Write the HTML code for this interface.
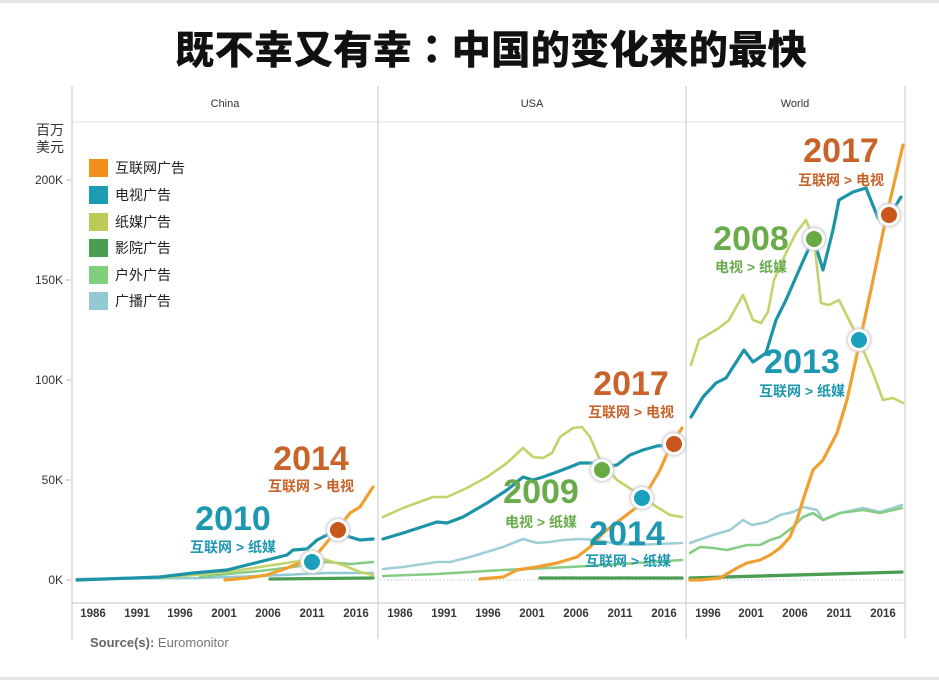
<!DOCTYPE html>
<html><head><meta charset="utf-8">
<style>
html,body{margin:0;padding:0;background:#fff;}
svg{display:block;}
text{font-family:"Liberation Sans","Noto Sans CJK SC",sans-serif;}
.cjk{font-family:"Liberation Sans","Noto Sans CJK SC",sans-serif;}
</style></head>
<body>
<svg width="939" height="680" viewBox="0 0 939 680" xmlns="http://www.w3.org/2000/svg">
<rect x="0" y="0" width="939" height="680" fill="#fff"/>
<rect x="0" y="0" width="939" height="3" fill="#e6e6e6"/>
<rect x="0" y="677" width="939" height="3" fill="#e6e6e6"/>

<!-- Title -->
<text x="491" y="64" text-anchor="middle" font-size="39.5" font-weight="900" fill="#111" class="cjk">既不幸又有幸<tspan style="font-family:'Noto Sans CJK TC',sans-serif">：</tspan>中国的变化来的最快</text>

<!-- frame -->
<g stroke="#d0d0d0" stroke-width="1.2" fill="none">
<line x1="72" y1="86" x2="72" y2="639"/>
<line x1="378" y1="86" x2="378" y2="639"/>
<line x1="686" y1="86" x2="686" y2="639"/>
<line x1="905" y1="86" x2="905" y2="639"/>
<line x1="72" y1="603" x2="905" y2="603"/>
</g>
<line x1="72" y1="122" x2="905" y2="122" stroke="#e2e2e2" stroke-width="1"/>

<!-- panel headers -->
<text x="225" y="107" text-anchor="middle" font-size="11" fill="#333">China</text>
<text x="532" y="107" text-anchor="middle" font-size="11" fill="#333">USA</text>
<text x="795" y="107" text-anchor="middle" font-size="11" fill="#333">World</text>

<!-- y axis -->
<text x="36" y="135" font-size="14" fill="#333" class="cjk">百万</text>
<text x="36" y="152" font-size="14" fill="#333" class="cjk">美元</text>
<g font-size="12" fill="#333" text-anchor="end">
<text x="63" y="184">200K</text>
<text x="63" y="284">150K</text>
<text x="63" y="384">100K</text>
<text x="63" y="484">50K</text>
<text x="63" y="584">0K</text>
</g>
<g stroke="#bbb" stroke-width="1">
<line x1="66" y1="180" x2="71" y2="180"/>
<line x1="66" y1="280" x2="71" y2="280"/>
<line x1="66" y1="380" x2="71" y2="380"/>
<line x1="66" y1="480" x2="71" y2="480"/>
<line x1="66" y1="580" x2="71" y2="580"/>
</g>

<!-- x axis labels -->
<g font-size="11.5" font-weight="bold" fill="#3a3a3a" text-anchor="middle">
<text x="93" y="617">1986</text><text x="137" y="617">1991</text><text x="180" y="617">1996</text><text x="224" y="617">2001</text><text x="268" y="617">2006</text><text x="312" y="617">2011</text><text x="356" y="617">2016</text>
<text x="400" y="617">1986</text><text x="444" y="617">1991</text><text x="488" y="617">1996</text><text x="532" y="617">2001</text><text x="576" y="617">2006</text><text x="620" y="617">2011</text><text x="664" y="617">2016</text>
<text x="708" y="617">1996</text><text x="751" y="617">2001</text><text x="795" y="617">2006</text><text x="839" y="617">2011</text><text x="883" y="617">2016</text>
</g>

<!-- source -->
<text x="90" y="647" font-size="13" fill="#666"><tspan font-weight="bold">Source(s):</tspan> <tspan fill="#777">Euromonitor</tspan></text>

<!-- legend -->
<g>
<rect x="89" y="159" width="19" height="18" fill="#f28e1c"/>
<rect x="89" y="186" width="19" height="18" fill="#1a9db3"/>
<rect x="89" y="213" width="19" height="18" fill="#bccb57"/>
<rect x="89" y="239" width="19" height="18" fill="#4b9d52"/>
<rect x="89" y="266" width="19" height="18" fill="#7fcf7c"/>
<rect x="89" y="292" width="19" height="18" fill="#92c9d3"/>
</g>
<g font-size="14" fill="#222" class="cjk">
<text x="115" y="173">互联网广告</text>
<text x="115" y="200">电视广告</text>
<text x="115" y="227">纸媒广告</text>
<text x="115" y="253">影院广告</text>
<text x="115" y="280">户外广告</text>
<text x="115" y="306">广播广告</text>
</g>

<!-- dotted zero lines -->
<g stroke="#c4c4c4" stroke-width="1" stroke-dasharray="1.5,2">
<line x1="380" y1="580" x2="684" y2="580"/>
<line x1="688" y1="580" x2="903" y2="580"/>
</g>

<g fill="none" stroke-linejoin="round" stroke-linecap="round">
<!-- CHINA -->
<polyline stroke="#92c9d3" stroke-width="2.6" points="77,579 200,578 260,576 327,573 373,573"/>
<polyline stroke="#86cc84" stroke-width="2.6" points="200,577 227,574 260,571 293,567 327,562 350,564 373,562"/>
<polyline stroke="#c3d26a" stroke-width="2.6" points="160,578 227,572 260,567 293,562 320,558 343,565 360,572 373,575"/>
<polyline stroke="#4b9d52" stroke-width="3.3" points="270,579 373,578"/>
<polyline stroke="#1d93a8" stroke-width="3.2" points="77,580 160,577 193,573 227,570 247,565 267,560 287,555 293,550 307,549 317,540 327,535 337,532 350,537 360,540 373,539"/>
<polyline stroke="#f0a030" stroke-width="3.2" points="225,580 247,578 267,575 287,568 300,563 312,560 323,547 337,530 350,513 360,507 373,487"/>

<!-- USA -->
<polyline stroke="#9fcfd6" stroke-width="2.6" points="383,569 403,567 437,562 450,562 470,557 503,547 523,539 537,543 550,542 563,540 580,539 597,540 617,544 637,545 657,544 682,543"/>
<polyline stroke="#86cc84" stroke-width="2.6" points="383,576 437,574 503,570 570,567 637,563 682,560"/>
<polyline stroke="#c3d26a" stroke-width="2.6" points="383,517 403,508 433,497 447,497 467,488 487,477 507,463 523,448 533,457 543,458 552,453 560,437 573,428 582,427 590,437 600,460 617,480 637,493 657,507 670,515 682,517"/>
<polyline stroke="#4b9d52" stroke-width="3.3" points="540,578 682,578"/>
<polyline stroke="#1d93a8" stroke-width="3.2" points="383,539 403,533 437,522 447,523 463,517 487,503 507,490 523,477 533,480 543,477 557,472 570,467 580,463 592,463 603,467 617,465 630,455 643,450 657,446 670,445 682,442"/>
<polyline stroke="#f0a030" stroke-width="3.2" points="480,579 503,577 517,570 537,567 557,563 577,557 590,547 603,533 620,520 637,507 650,487 660,470 670,447 682,428"/>

<!-- WORLD -->
<polyline stroke="#9fcfd6" stroke-width="2.6" points="690,543 713,535 730,530 743,520 752,525 767,522 780,515 793,512 803,507 817,510 823,520 840,513 863,508 880,512 902,505"/>
<polyline stroke="#86cc84" stroke-width="2.6" points="690,553 700,547 713,548 727,550 747,545 760,545 770,540 780,537 793,527 803,517 813,513 823,520 840,513 863,510 880,513 902,508"/>
<polyline stroke="#c3d26a" stroke-width="2.6" points="691,365 699,340 719,328 729,320 743,295 753,320 761,323 768,312 774,280 786,253 796,233 806,220 814,240 821,303 829,305 839,300 849,320 859,340 873,373 883,400 893,398 903,403"/>
<polyline stroke="#4b9d52" stroke-width="3.3" points="690,578 902,572"/>
<polyline stroke="#1d93a8" stroke-width="3.2" points="691,417 703,397 716,383 726,378 744,350 753,362 766,353 776,320 786,300 796,277 808,250 814,240 823,270 833,230 839,200 853,192 866,188 878,218 890,215 901,197"/>
<polyline stroke="#f0a030" stroke-width="3.2" points="690,580 700,580 720,578 737,568 747,563 760,560 770,555 780,548 790,537 797,520 803,500 813,470 823,460 837,433 847,400 859,345 872,285 886,218 903,145"/>
</g>

<!-- dots -->
<defs>
<filter id="sh" x="-50%" y="-50%" width="200%" height="200%">
<feGaussianBlur stdDeviation="1.2"/>
</filter>
</defs>
<g>
<g transform="translate(312,562)"><circle r="12.5" fill="#cfcfcf" filter="url(#sh)"/><circle r="11" fill="#fff"/><circle r="8" fill="#1aa0bd"/></g>
<g transform="translate(338,530)"><circle r="12.5" fill="#cfcfcf" filter="url(#sh)"/><circle r="11" fill="#fff"/><circle r="8" fill="#c9561c"/></g>
<g transform="translate(602,470)"><circle r="12.5" fill="#cfcfcf" filter="url(#sh)"/><circle r="11" fill="#fff"/><circle r="8" fill="#6aaa45"/></g>
<g transform="translate(642,498)"><circle r="12.5" fill="#cfcfcf" filter="url(#sh)"/><circle r="11" fill="#fff"/><circle r="8" fill="#1aa0bd"/></g>
<g transform="translate(674,444)"><circle r="12.5" fill="#cfcfcf" filter="url(#sh)"/><circle r="11" fill="#fff"/><circle r="8" fill="#c9561c"/></g>
<g transform="translate(814,239)"><circle r="12.5" fill="#cfcfcf" filter="url(#sh)"/><circle r="11" fill="#fff"/><circle r="8" fill="#6aaa45"/></g>
<g transform="translate(859,340)"><circle r="12.5" fill="#cfcfcf" filter="url(#sh)"/><circle r="11" fill="#fff"/><circle r="8" fill="#1aa0bd"/></g>
<g transform="translate(889,215)"><circle r="12.5" fill="#cfcfcf" filter="url(#sh)"/><circle r="11" fill="#fff"/><circle r="8" fill="#c9561c"/></g>
</g>

<!-- annotations -->
<g font-weight="bold" text-anchor="middle">
<!-- China -->
<text x="311" y="470" font-size="34" fill="#c8632a">2014</text>
<text x="311" y="491" font-size="14" fill="#c8632a" class="cjk">互联网 &gt; 电视</text>
<text x="233" y="530" font-size="34" fill="#1e98b0">2010</text>
<text x="233" y="552" font-size="14" fill="#1e98b0" class="cjk">互联网 &gt; 纸媒</text>
<!-- USA -->
<text x="631" y="395" font-size="34" fill="#c8632a">2017</text>
<text x="631" y="417" font-size="14" fill="#c8632a" class="cjk">互联网 &gt; 电视</text>
<text x="541" y="503" font-size="34" fill="#6aab4c">2009</text>
<text x="541" y="527" font-size="14" fill="#6aab4c" class="cjk">电视 &gt; 纸媒</text>
<text x="627" y="545" font-size="34" fill="#1e98b0">2014</text>
<text x="628" y="566" font-size="14" fill="#1e98b0" class="cjk">互联网 &gt; 纸媒</text>
<!-- World -->
<text x="841" y="162" font-size="34" fill="#c8632a">2017</text>
<text x="841" y="185" font-size="14" fill="#c8632a" class="cjk">互联网 &gt; 电视</text>
<text x="751" y="250" font-size="34" fill="#6aab4c">2008</text>
<text x="751" y="272" font-size="14" fill="#6aab4c" class="cjk">电视 &gt; 纸媒</text>
<text x="802" y="373" font-size="34" fill="#1e98b0">2013</text>
<text x="802" y="396" font-size="14" fill="#1e98b0" class="cjk">互联网 &gt; 纸媒</text>
</g>
</svg>
</body></html>
